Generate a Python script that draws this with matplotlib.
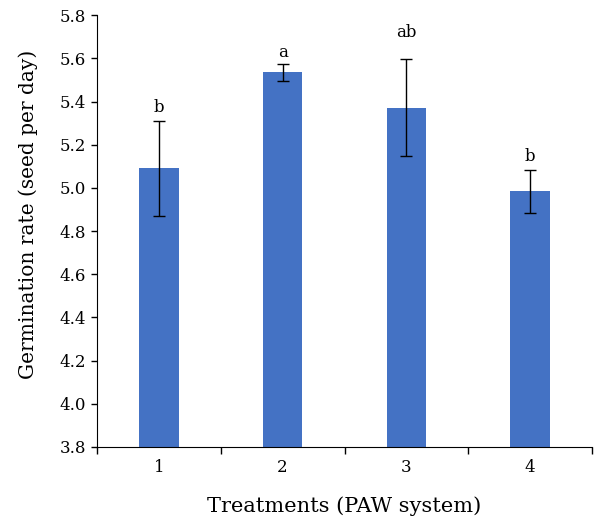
import matplotlib
matplotlib.use("Agg")
import matplotlib.pyplot as plt

treatments = ["1", "2", "3", "4"]
germination = [5.09, 5.535, 5.371, 4.985]
errors = [0.222, 0.041, 0.225, 0.10]
letters = ["b", "a", "ab", "b"]
letter_y = [5.35, 5.605, 5.70, 5.125]  # baseline of the significance letters

plt.rcParams["font.family"] = ["DejaVu Serif"]

fig = plt.figure(figsize=(5.95, 5.24), dpi=100)
ax = fig.add_axes([0.163, 0.147, 0.832, 0.824])

x = list(range(1, len(treatments) + 1))
ax.bar(x, germination, width=0.32, color="#4472C4", zorder=2)
ax.errorbar(x, germination, yerr=errors, fmt="none", ecolor="black",
            elinewidth=1.0, capsize=4, capthick=1.0, zorder=3)

for xi, ly, lab in zip(x, letter_y, letters):
    ax.text(xi, ly, lab, ha="center", va="baseline", fontsize=12)

ax.set_xlim(0.5, 4.5)
ax.set_ylim(3.8, 5.8)
ticks = [3.8 + 0.2 * i for i in range(11)]
ax.set_yticks(ticks)
ax.set_yticklabels([f"{t:.1f}" for t in ticks], fontsize=12)
ax.set_xticks([0.5, 1.5, 2.5, 3.5, 4.5])
ax.set_xticklabels([])
ax.set_xticks(x, minor=True)
ax.set_xticklabels(treatments, minor=True, fontsize=12)
ax.tick_params(axis="x", which="minor", length=0, pad=9)
ax.tick_params(axis="x", which="major", length=5, width=1)
ax.tick_params(axis="y", length=4, width=1, pad=4)

for side in ("top", "right"):
    ax.spines[side].set_visible(False)

ax.set_xlabel("Treatments (PAW system)", fontsize=15, labelpad=14)
ax.set_ylabel("Germination rate (seed per day)", fontsize=14.5, va="center")
ax.yaxis.set_label_coords(-0.139, 0.538)

fig.savefig("out.png", dpi=100)
